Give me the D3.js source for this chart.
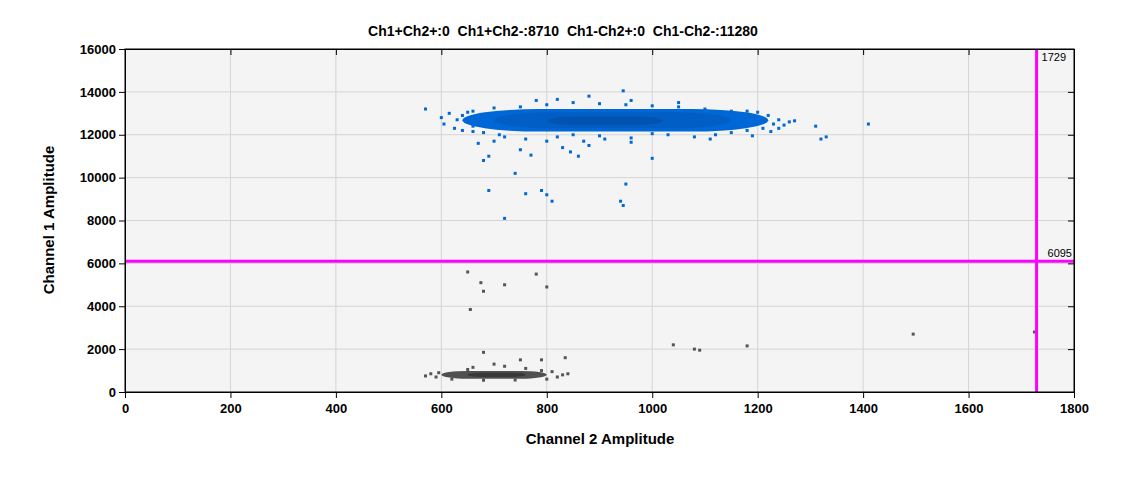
<!DOCTYPE html><html><head><meta charset="utf-8">
<script src="https://cdn.jsdelivr.net/npm/d3@7/dist/d3.min.js"></script>
<style>body{margin:0;background:#fff;font-family:"Liberation Sans",Arial,sans-serif}</style></head><body>
<svg id="c" width="1125" height="478"></svg>
<script>
const title="Ch1+Ch2+:0  Ch1+Ch2-:8710  Ch1-Ch2+:0  Ch1-Ch2-:11280";
const xTicks=[0,200,400,600,800,1000,1200,1400,1600,1800];
const yTicks=[0,2000,4000,6000,8000,10000,12000,14000,16000];
const thresholdX=1729, thresholdY=6095;
// cluster cores: [x0, x1, y0, y1] boxes with rounded ends
const blueCores=[[640,1220,12150,13200],[700,1150,12300,13050],[800,1020,12450,12850]];
const grayCores=[[600,800,620,980],[650,760,700,900]];
const blueCoreColors=["#0068d6","#005ec4","#0054b0"];
const grayCoreColors=["#505050","#383838","#222"];
const bluePts=[[570,13200],[600,12800],[605,12500],[615,13000],[625,12300],[640,12200],[640,12900],[630,12700],[650,13050],[660,12150],[680,10800],[690,9400],[720,8100],[760,9250],[790,9400],[800,9200],[810,8900],[860,11000],[940,8900],[945,8700],[950,9700],[1000,10900],[1310,12400],[1320,11800],[1330,11900],[1410,12500],[1260,12600],[1240,12300],[780,13600],[945,14050],[680,12100],[700,11700],[750,11300],[830,11400],[880,11500],[1030,12000],[1080,11900],[1120,12000],[670,11600],[720,11900],[760,11800],[800,11700],[820,11900],[850,12000],[900,11950],[960,11850],[1000,12050],[1150,12100],[1180,12200],[1210,12300],[1230,12500],[1220,12900],[1200,13050],[1150,13100],[1100,13200],[1050,13300],[1000,13350],[950,13400],[900,13450],[850,13500],[800,13400],[750,13300],[700,13250],[660,13100],[845,11200],[770,11050],[740,10200],[690,11000],[820,13650],[880,13800],[960,13600],[1050,13500],[1240,12700],[1250,12450],[1190,11950],[1110,11800],[960,11650],[910,11800],[870,11700],[710,12000],[660,12400],[1270,12650],[1225,12150],[1180,13100]];
const grayPts=[[650,5600],[675,5100],[680,4700],[720,5000],[780,5500],[800,4900],[655,3850],[680,1850],[750,1500],[790,1500],[835,1600],[1040,2200],[1080,2000],[1090,1950],[1180,2150],[1495,2700],[1725,2800],[580,850],[570,750],[590,700],[595,900],[830,800],[820,700],[790,1000],[760,1100],[720,1200],[650,1050],[620,600],[680,550],[740,560],[800,600],[840,850],[810,950],[660,1150],[700,1300]];

const svg=d3.select("#c");
const L=125,R=1074,T=49,B=392;
const x=d3.scaleLinear().domain([0,1800]).range([L,R]);
const y=d3.scaleLinear().domain([0,16000]).range([B,T]);
svg.append("rect").attr("x",L).attr("y",T).attr("width",R-L).attr("height",B-T).attr("fill","#f4f4f4");
svg.append("g").selectAll("line").data(xTicks.slice(1,-1)).join("line").attr("x1",d=>x(d)).attr("x2",d=>x(d)).attr("y1",T).attr("y2",B).attr("stroke","#d4d4d4");
svg.append("g").selectAll("line").data(yTicks.slice(1,-1)).join("line").attr("y1",d=>y(d)).attr("y2",d=>y(d)).attr("x1",L).attr("x2",R).attr("stroke","#d4d4d4");
const box=(cores,cols)=>svg.append("g").selectAll("rect").data(cores).join("rect")
 .attr("x",d=>x(d[0])).attr("y",d=>y(d[3])).attr("width",d=>x(d[1])-x(d[0])).attr("height",d=>y(d[2])-y(d[3]))
 .attr("rx",d=>(x(d[1])-x(d[0]))/4).attr("ry",d=>(y(d[2])-y(d[3]))/2).attr("fill",(d,i)=>cols[i]);
box(blueCores,blueCoreColors);box(grayCores,grayCoreColors);
const pts=(data,col)=>svg.append("g").selectAll("rect").data(data).join("rect")
 .attr("x",d=>x(d[0])-1.5).attr("y",d=>y(d[1])-1.5).attr("width",3).attr("height",3).attr("fill",col);
pts(bluePts,"#0068d6");pts(grayPts,"#555");
svg.append("line").attr("x1",x(thresholdX)).attr("x2",x(thresholdX)).attr("y1",T).attr("y2",B).attr("stroke","#ff00ff").attr("stroke-width",3);
svg.append("line").attr("x1",L).attr("x2",R).attr("y1",y(thresholdY)).attr("y2",y(thresholdY)).attr("stroke","#ff00ff").attr("stroke-width",3);
svg.append("text").attr("x",x(thresholdX)+5).attr("y",T+12).attr("font-size",11).text(thresholdX);
svg.append("text").attr("x",R-2).attr("y",y(thresholdY)-4).attr("text-anchor","end").attr("font-size",11).text(thresholdY);
svg.append("rect").attr("x",L).attr("y",T).attr("width",R-L).attr("height",B-T).attr("fill","none").attr("stroke","#000");
const ax=svg.append("g").attr("transform",`translate(0,${B})`).call(d3.axisBottom(x).tickValues(xTicks).tickSize(6).tickFormat(d3.format("d")));
const ay=svg.append("g").attr("transform",`translate(${L},0)`).call(d3.axisLeft(y).tickValues(yTicks).tickSize(6).tickFormat(d3.format("d")));
svg.append("g").attr("transform",`translate(0,${T})`).call(d3.axisTop(x).tickValues(xTicks).tickSize(-6).tickFormat(""));
svg.append("g").attr("transform",`translate(${R},0)`).call(d3.axisRight(y).tickValues(yTicks).tickSize(-6).tickFormat(""));
svg.selectAll(".domain").attr("stroke","#000");
svg.selectAll(".tick text").attr("font-size",13).attr("font-weight","bold").attr("font-family","Liberation Sans");
ax.selectAll("text").attr("dy","0.9em");
svg.append("text").attr("x",563).attr("y",36).attr("text-anchor","middle").attr("font-size",14).attr("font-weight","bold").style("white-space","pre").text(title);
svg.append("text").attr("x",600).attr("y",444).attr("text-anchor","middle").attr("font-size",15).attr("font-weight","bold").text("Channel 2 Amplitude");
svg.append("text").attr("transform","translate(54,220) rotate(-90)").attr("text-anchor","middle").attr("font-size",15).attr("font-weight","bold").text("Channel 1 Amplitude");
</script></body></html>
